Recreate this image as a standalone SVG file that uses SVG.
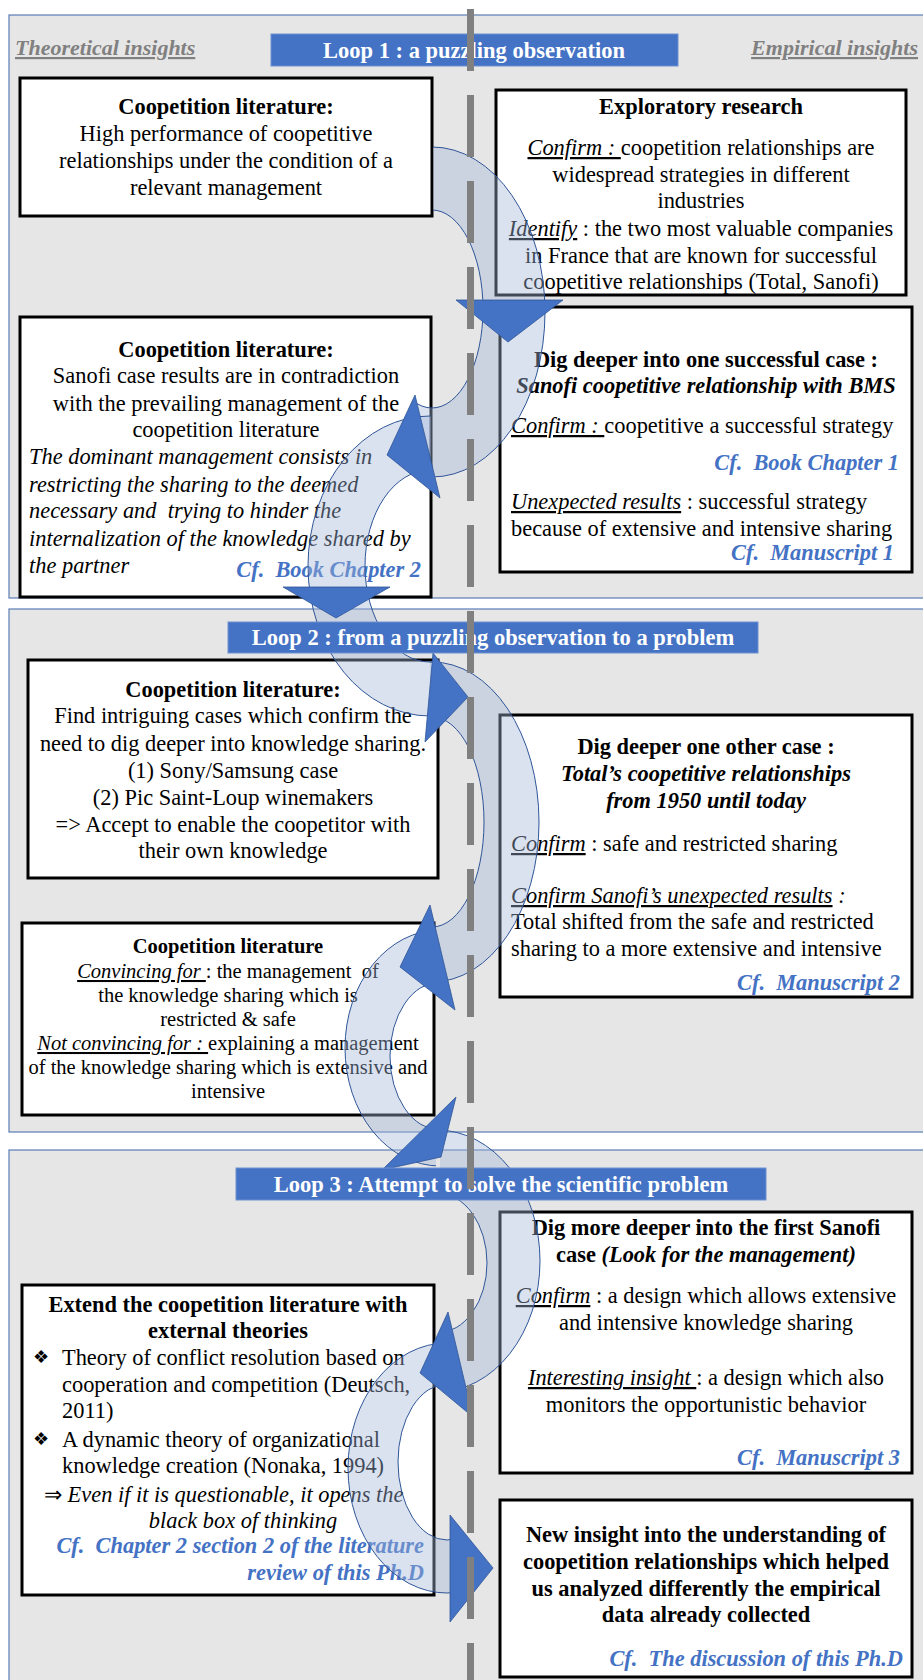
<svg xmlns="http://www.w3.org/2000/svg" width="923" height="1680" viewBox="0 0 923 1680">
<defs>
<style>
.t{font-family:"Liberation Serif","Times New Roman",serif;font-size:22.4px;fill:#000}
.s{font-size:20.5px}
.m{text-anchor:middle}
.e{text-anchor:end}
.b{font-weight:bold}
.i{font-style:italic}
.u{text-decoration:underline}
.cf{fill:#4472C4;font-weight:bold;font-style:italic}
.panel{fill:#E7E6E6;stroke:#5B7EB5;stroke-width:1.2}
.box{fill:#fff;stroke:#000;stroke-width:3}
.hdr{fill:#4472C4;stroke:#6E91D0;stroke-width:1}
.ht{font-family:"Liberation Serif","Times New Roman",serif;font-size:22.5px;font-weight:bold;fill:#fff;text-anchor:middle}
.lab{font-family:"Liberation Serif","Times New Roman",serif;font-size:22px;font-weight:bold;font-style:italic;fill:#808080;text-decoration:underline}
.band{fill:#A3B7DA;fill-opacity:0.4;fill-rule:evenodd;stroke:#2F5597;stroke-width:1}
.head{fill:#4472C4;stroke:#2F5597;stroke-width:0.8}
.dash{stroke:#808080;stroke-width:7;stroke-dasharray:62 24;fill:none}
.sym{font-family:"DejaVu Sans",sans-serif;font-size:18px}
</style>
<clipPath id="cA"><polygon points="433,100 640,100 640,560 455,560 415,395 433,320"/></clipPath>
<clipPath id="cB"><polygon points="200,380 431,380 431,760 200,760"/></clipPath>
<clipPath id="cC"><polygon points="430,640 640,640 640,1040 462,1040 430,905"/></clipPath>
<clipPath id="cD"><polygon points="300,900 436,900 436,1180 300,1180"/></clipPath>
<clipPath id="cE"><polygon points="440,1100 640,1100 640,1440 478,1440 448,1312 440,1280"/></clipPath>
<clipPath id="cF"><polygon points="300,1320 450,1320 450,1640 300,1640"/></clipPath>
</defs>
<rect x="0" y="0" width="923" height="1680" fill="#fff"/>

<g id="panels">
<rect class="panel" x="9" y="15" width="925" height="583"/>
<rect class="panel" x="9" y="609" width="925" height="523"/>
<rect class="panel" x="9" y="1150" width="925" height="540"/>
</g>

<g id="box-l1">
<rect class="box" x="20" y="78" width="412" height="138"/>
<text class="t m b" x="226" y="114">Coopetition literature:</text>
<text class="t m" x="226" y="141">High performance of coopetitive</text>
<text class="t m" x="226" y="168">relationships under the condition of a</text>
<text class="t m" x="226" y="195">relevant management</text>
</g>

<g id="box-r1">
<rect class="box" x="496" y="90" width="410" height="205"/>
<text class="t m b" x="701" y="114">Exploratory research</text>
<text class="t m" x="701" y="155"><tspan class="i u">Confirm :&#160;</tspan>coopetition relationships are</text>
<text class="t m" x="701" y="182">widespread strategies in different</text>
<text class="t m" x="701" y="208">industries</text>
<text class="t m" x="701" y="236"><tspan class="i u">Identify</tspan> : the two most valuable companies</text>
<text class="t m" x="701" y="263">in France that are known for successful</text>
<text class="t m" x="701" y="289">coopetitive relationships (Total, Sanofi)</text>
</g>

<g id="box-l2">
<rect class="box" x="20" y="317" width="411" height="280"/>
<text class="t m b" x="226" y="357">Coopetition literature:</text>
<text class="t m" x="226" y="383">Sanofi case results are in contradiction</text>
<text class="t m" x="226" y="411">with the prevailing management of the</text>
<text class="t m" x="226" y="437">coopetition literature</text>
<text class="t i" x="29" y="464">The dominant management consists in</text>
<text class="t i" x="29" y="492">restricting the sharing to the deemed</text>
<text class="t i" x="29" y="518">necessary and&#160; trying to hinder the</text>
<text class="t i" x="29" y="546">internalization of the knowledge shared by</text>
<text class="t i" x="29" y="573">the partner</text>
<text class="t e cf" x="421" y="577">Cf.&#160; Book Chapter 2</text>
</g>

<g id="box-r2">
<rect class="box" x="500" y="307" width="412" height="265"/>
<text class="t m b" x="706" y="367">Dig deeper into one successful case :</text>
<text class="t m b i" x="706" y="393">Sanofi coopetitive relationship with BMS</text>
<text class="t" x="511" y="433"><tspan class="i u">Confirm :&#160;</tspan>coopetitive a successful strategy</text>
<text class="t e cf" x="899" y="470">Cf.&#160; Book Chapter 1</text>
<text class="t" x="511" y="509"><tspan class="i u">Unexpected results</tspan> : successful strategy</text>
<text class="t" x="511" y="536">because of extensive and intensive sharing</text>
<text class="t e cf" x="894" y="560">Cf.&#160; Manuscript 1</text>
</g>

<g id="box-l3">
<rect class="box" x="28" y="660" width="410" height="218"/>
<text class="t m b" x="233" y="697">Coopetition literature:</text>
<text class="t m" x="233" y="723">Find intriguing cases which confirm the</text>
<text class="t m" x="233" y="751">need to dig deeper into knowledge sharing.</text>
<text class="t m" x="233" y="778">(1) Sony/Samsung case</text>
<text class="t m" x="233" y="805">(2) Pic Saint-Loup winemakers</text>
<text class="t m" x="233" y="832">=&gt; Accept to enable the coopetitor with</text>
<text class="t m" x="233" y="858">their own knowledge</text>
</g>

<g id="box-r3">
<rect class="box" x="500" y="715" width="412" height="282"/>
<text class="t m b" x="706" y="754">Dig deeper one other case :</text>
<text class="t m b i" x="706" y="781">Total’s coopetitive relationships</text>
<text class="t m b i" x="706" y="808">from 1950 until today</text>
<text class="t" x="511" y="851"><tspan class="i u">Confirm</tspan> : safe and restricted sharing</text>
<text class="t" x="511" y="903"><tspan class="i u">Confirm Sanofi’s unexpected results</tspan><tspan class="i"> :</tspan></text>
<text class="t" x="511" y="929">Total shifted from the safe and restricted</text>
<text class="t" x="511" y="956">sharing to a more extensive and intensive</text>
<text class="t e cf" x="900" y="990">Cf.&#160; Manuscript 2</text>
</g>

<g id="box-l4">
<rect class="box" x="22" y="923" width="412" height="192"/>
<text class="t s m b" x="228" y="953">Coopetition literature</text>
<text class="t s m" x="228" y="978"><tspan class="i u">Convincing for&#160;</tspan>: the management&#160; of</text>
<text class="t s m" x="228" y="1002">the knowledge sharing which is</text>
<text class="t s m" x="228" y="1026">restricted &amp; safe</text>
<text class="t s m" x="228" y="1050"><tspan class="i u">Not convincing for :&#160;</tspan>explaining a management</text>
<text class="t s m" x="228" y="1074">of the knowledge sharing which is extensive and</text>
<text class="t s m" x="228" y="1098">intensive</text>
</g>

<g id="box-r4">
<rect class="box" x="500" y="1212" width="412" height="261"/>
<text class="t m b" x="706" y="1235">Dig more deeper into the first Sanofi</text>
<text class="t m b" x="706" y="1262">case <tspan class="i">(Look for the management)</tspan></text>
<text class="t m" x="706" y="1303"><tspan class="i u">Confirm</tspan> : a design which allows extensive</text>
<text class="t m" x="706" y="1330">and intensive knowledge sharing</text>
<text class="t m" x="706" y="1385"><tspan class="i u">Interesting insight&#160;</tspan>: a design which also</text>
<text class="t m" x="706" y="1412">monitors the opportunistic behavior</text>
<text class="t e cf" x="900" y="1465">Cf.&#160; Manuscript 3</text>
</g>

<g id="box-l5">
<rect class="box" x="22" y="1285" width="412" height="310"/>
<text class="t m b" x="228" y="1312">Extend the coopetition literature with</text>
<text class="t m b" x="228" y="1338">external theories</text>
<text class="t sym" x="33" y="1363">❖</text>
<text class="t" x="62" y="1365">Theory of conflict resolution based on</text>
<text class="t" x="62" y="1392">cooperation and competition (Deutsch,</text>
<text class="t" x="62" y="1418">2011)</text>
<text class="t sym" x="33" y="1445">❖</text>
<text class="t" x="62" y="1447">A dynamic theory of organizational</text>
<text class="t" x="62" y="1473">knowledge creation (Nonaka, 1994)</text>
<text class="t" x="44" y="1502">⇒ <tspan class="i">Even if it is questionable, it opens the</tspan></text>
<text class="t m i" x="243" y="1528">black box of thinking</text>
<text class="t e cf" x="424" y="1553">Cf.&#160; Chapter 2 section 2 of the literature</text>
<text class="t e cf" x="424" y="1580">review of this Ph.D</text>
</g>

<g id="box-r5">
<rect class="box" x="500" y="1500" width="412" height="177"/>
<text class="t m b" x="706" y="1542">New insight into the understanding of</text>
<text class="t m b" x="706" y="1569">coopetition relationships which helped</text>
<text class="t m b" x="706" y="1596">us analyzed differently the empirical</text>
<text class="t m b" x="706" y="1622">data already collected</text>
<text class="t e cf" x="903" y="1666">Cf.&#160; The discussion of this Ph.D</text>
</g>

<g id="connectors">
<path class="band" clip-path="url(#cA)" d="M319,312 A113,165 0 1 0 545,312 A113,165 0 1 0 319,312 Z M381,309 A51,99 0 1 0 483,309 A51,99 0 1 0 381,309 Z"/>
<path class="band" clip-path="url(#cB)" d="M308,566 A122,150 0 1 0 552,566 A122,150 0 1 0 308,566 Z M365,566 A65,96 0 1 0 495,566 A65,96 0 1 0 365,566 Z"/>
<path class="band" clip-path="url(#cC)" d="M325,822 A107,160 0 1 0 539,822 A107,160 0 1 0 325,822 Z M380,822 A52,105 0 1 0 484,822 A52,105 0 1 0 380,822 Z"/>
<path class="band" clip-path="url(#cD)" d="M345,1048 A95,118 0 1 0 535,1048 A95,118 0 1 0 345,1048 Z M390,1056 A50,74 0 1 0 490,1056 A50,74 0 1 0 390,1056 Z"/>
<path class="band" clip-path="url(#cE)" d="M334,1261 A103,131 0 1 0 540,1261 A103,131 0 1 0 334,1261 Z M387,1263 A50,70 0 1 0 487,1263 A50,70 0 1 0 387,1263 Z"/>
<path class="band" clip-path="url(#cF)" d="M348,1468 A99,125 0 1 0 546,1468 A99,125 0 1 0 348,1468 Z M398,1462 A49,78 0 1 0 496,1462 A49,78 0 1 0 398,1462 Z"/>
<polygon class="head" points="456,300 563,300 508,342"/>
<polygon class="head" points="415,395 387,455 440,498"/>
<polygon class="head" points="283,587 390,587 336,618"/>
<polygon class="head" points="433,653 468,697 425,742"/>
<polygon class="head" points="430,905 400,967 455,1010"/>
<polygon class="head" points="456,1097 382,1170 441,1157"/>
<polygon class="head" points="448,1312 420,1373 473,1417"/>
<polygon class="head" points="450,1515 493,1568 450,1622"/>
</g>

<g id="loop1">
<rect class="hdr" x="271" y="34" width="407" height="32"/>
<text class="ht" x="474" y="58">Loop 1 : a puzzling observation</text>
</g>
<g id="loop2">
<rect class="hdr" x="228" y="622" width="530" height="31"/>
<text class="ht" x="493" y="645">Loop 2 : from a puzzling observation to a problem</text>
</g>
<g id="loop3">
<rect class="hdr" x="236" y="1168" width="530" height="32"/>
<text class="ht" x="501" y="1192">Loop 3 : Attempt to solve the scientific problem</text>
</g>

<g id="labels">
<text class="lab" x="15" y="55">Theoretical insights</text>
<text class="lab" x="918" y="55" text-anchor="end">Empirical insights</text>
</g>

<g id="divider">
<line class="dash" x1="470.5" y1="9" x2="470.5" y2="1680"/>
</g>
</svg>
